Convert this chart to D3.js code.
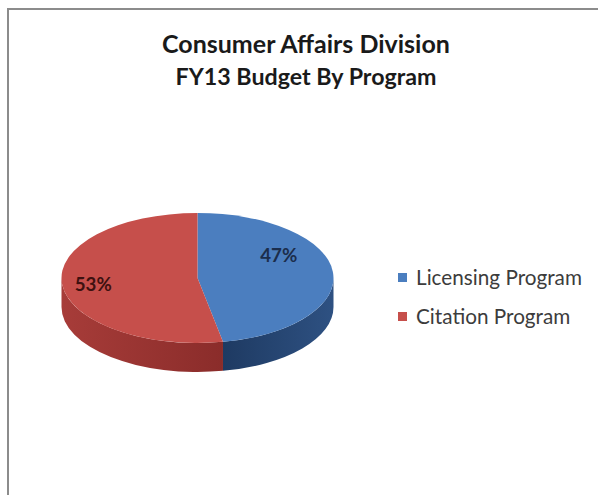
<!DOCTYPE html>
<html>
<head>
<meta charset="utf-8">
<script src="https://cdn.jsdelivr.net/npm/d3@7"></script>
<style>
  html, body { margin: 0; padding: 0; background: #ffffff; }
  svg { display: block; }
</style>
</head>
<body>
<script>
// Budget split by program (percent of FY13 budget)
const categories = ["Licensing Program", "Citation Program"];
const shares = [47, 53];
const shareLabels = ["47%", "53%"];
const titleLines = ["Consumer Affairs Division", "FY13 Budget By Program"];

const W = 598, H = 495;
const FONT = "Lato, 'Open Sans', 'DejaVu Sans', sans-serif";

const topColors = ["#4B7EBF", "#C64F4B"];
const sideStops = [
  [["0%", "#1E3A62"], ["100%", "#2E5182"]],
  [["0%", "#A73C39"], ["100%", "#8A2C2A"]]
];

const svg = d3.select("body").append("svg")
  .attr("width", W).attr("height", H);

// chart area frame (only the top and left edges fall inside the view)
svg.append("path")
  .attr("d", `M8,${H} L8,9 L${W},9`)
  .attr("fill", "none")
  .attr("stroke", "#8c8c8c")
  .attr("stroke-width", 2);

// scale a text node's font size so its rendered width equals `target`
function fitWidth(sel, target, start) {
  sel.style("font-size", start + "px");
  const w = sel.node().getComputedTextLength();
  const size = start * target / w;
  sel.style("font-size", size + "px");
  return size;
}

// ---- title ----
const titleWidths = [288, 261];
const titleBase = [53, 85];
const title = svg.append("g").attr("font-family", FONT)
  .attr("font-weight", "bold").attr("fill", "#1a1a1a");
titleLines.forEach((t, i) => {
  const tx = title.append("text")
    .attr("x", 306).attr("y", titleBase[i])
    .attr("text-anchor", "middle").text(t);
  fitWidth(tx, titleWidths[i], 20);
});

// ---- 3D pie ----
const cx = 197.5, cy = 278, rx = 136, ry = 65, depth = 29;
const arcs = d3.pie().sort(null).value(d => d)(shares);

const pt = (a, dy = 0) => [cx + rx * Math.sin(a), cy - ry * Math.cos(a) + dy];

const defs = svg.append("defs");
sideStops.forEach((stops, i) => {
  const g = defs.append("linearGradient")
    .attr("id", "side" + i)
    .attr("gradientUnits", "userSpaceOnUse")
    .attr("x1", i === 0 ? 222 : cx - rx).attr("x2", i === 0 ? cx + rx : 225)
    .attr("y1", 0).attr("y2", 0);
  stops.forEach(s => g.append("stop").attr("offset", s[0]).attr("stop-color", s[1]));
});

// front-facing side walls: visible where the rim lies below the centre line
const sides = svg.append("g");
arcs.forEach((d, i) => {
  const s = Math.max(d.startAngle, Math.PI / 2);
  const e = Math.min(d.endAngle, 3 * Math.PI / 2);
  if (e <= s) return;
  const p0 = pt(s), p1 = pt(e), q1 = pt(e, depth), q0 = pt(s, depth);
  const large = (e - s) > Math.PI ? 1 : 0;
  sides.append("path")
    .attr("d", `M${p0} A${rx},${ry} 0 ${large} 1 ${p1} L${q1} A${rx},${ry} 0 ${large} 0 ${q0} Z`)
    .attr("fill", `url(#side${i})`);
});

// top faces drawn with d3.arc, squashed vertically into an ellipse
const arcGen = d3.arc().innerRadius(0).outerRadius(rx);
svg.append("g")
  .attr("transform", `translate(${cx},${cy}) scale(1,${ry / rx})`)
  .selectAll("path").data(arcs).join("path")
  .attr("d", arcGen)
  .attr("fill", (d, i) => topColors[i]);

// percentage labels
const labelLayout = [{ r: 0.6, dy: -18 }, { r: 0.77, dy: 2 }];
const labelColors = ["#1B2D4C", "#3E1110"];
arcs.forEach((d, i) => {
  const mid = (d.startAngle + d.endAngle) / 2;
  const L = labelLayout[i];
  const x = cx + L.r * rx * Math.sin(mid);
  const y = cy - L.r * ry * Math.cos(mid) + L.dy;
  const t = svg.append("text")
    .attr("x", x).attr("y", y + 6)
    .attr("text-anchor", "middle")
    .attr("font-family", FONT).attr("font-weight", "bold")
    .attr("fill", labelColors[i])
    .text(shareLabels[i]);
  fitWidth(t, 37, 16);
});

// ---- legend ----
const legend = svg.append("g").attr("font-family", FONT);
const rowBase = [285, 324];
let legendSize = null;
categories.forEach((c, i) => {
  legend.append("rect")
    .attr("x", 398).attr("y", rowBase[i] - 12)
    .attr("width", 9).attr("height", 9)
    .attr("fill", topColors[i]);
  const t = legend.append("text")
    .attr("x", 416).attr("y", rowBase[i])
    .attr("fill", "#3c3c3c")
    .text(c);
  if (legendSize === null) legendSize = fitWidth(t, 166, 17);
  else t.style("font-size", legendSize + "px");
});
</script>
</body>
</html>
